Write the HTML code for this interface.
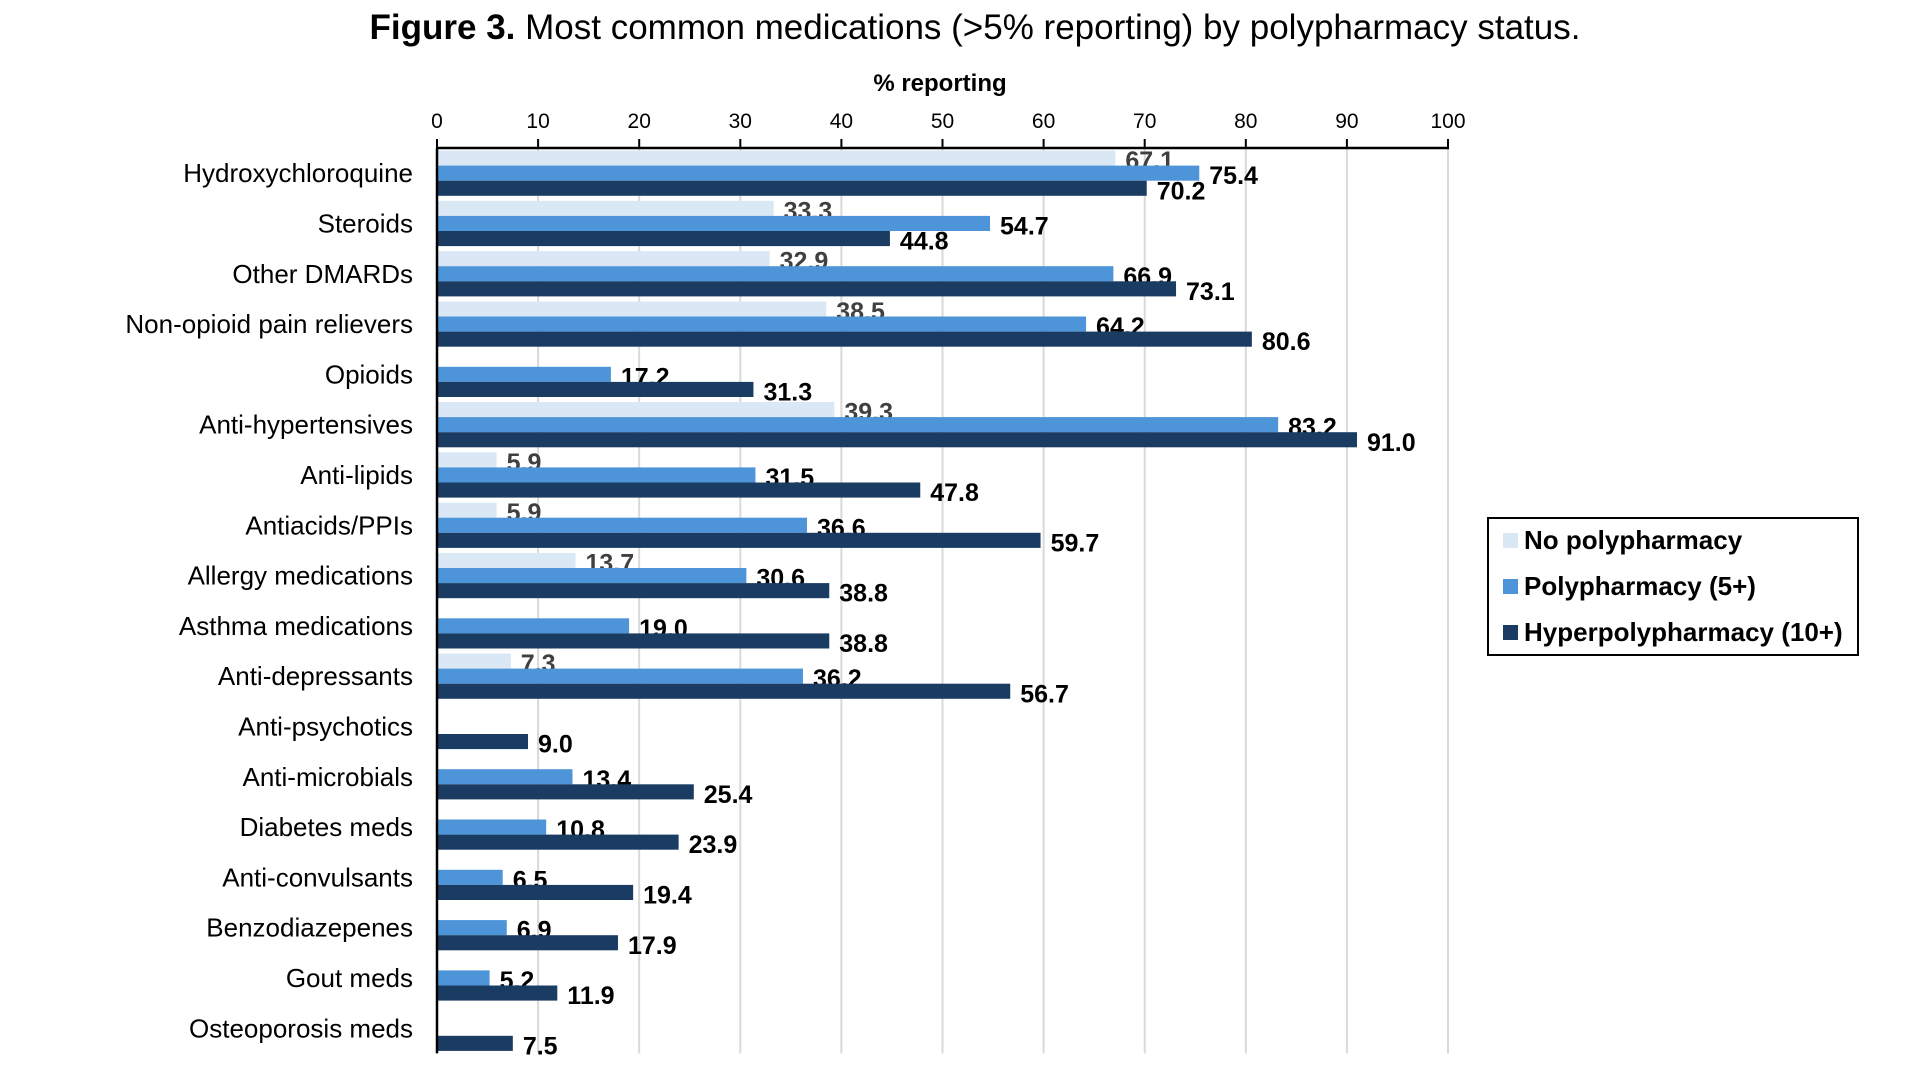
<!DOCTYPE html>
<html><head><meta charset="utf-8"><style>
html,body{margin:0;padding:0;background:#fff;}
svg{display:block;font-family:"Liberation Sans",sans-serif;}
</style></head><body>
<svg id="chart" width="1920" height="1080" viewBox="0 0 1920 1080">
<text x="975" y="39" text-anchor="middle" font-size="35"><tspan font-weight="bold">Figure 3.</tspan> Most common medications (&gt;5% reporting)  by polypharmacy status.</text>
<text x="940" y="91" text-anchor="middle" font-size="24" font-weight="bold">% reporting</text>
<g id="grid"></g><g id="bars"></g><g id="axes"></g>
<g>
<rect x="1488" y="518" width="370" height="137" fill="#fff" stroke="#000" stroke-width="2"/>
<rect x="1503" y="533" width="15" height="15" fill="#dae8f6"/>
<text x="1524" y="549" font-size="26" font-weight="bold">No polypharmacy</text>
<rect x="1503" y="579" width="15" height="15" fill="#4d94d8"/>
<text x="1524" y="595" font-size="26" font-weight="bold">Polypharmacy (5+)</text>
<rect x="1503" y="625" width="15" height="15" fill="#1a3c63"/>
<text x="1524" y="641" font-size="26" font-weight="bold">Hyperpolypharmacy (10+)</text>
</g>
</svg>
<script>
const categories = ["Hydroxychloroquine","Steroids","Other DMARDs","Non-opioid pain relievers","Opioids","Anti-hypertensives","Anti-lipids","Antiacids/PPIs","Allergy medications","Asthma medications","Anti-depressants","Anti-psychotics","Anti-microbials","Diabetes meds","Anti-convulsants","Benzodiazepenes","Gout meds","Osteoporosis meds"];
const noPoly = [67.1,33.3,32.9,38.5,null,39.3,5.9,5.9,13.7,null,7.3,null,null,null,null,null,null,null];
const poly5 = [75.4,54.7,66.9,64.2,17.2,83.2,31.5,36.6,30.6,19.0,36.2,null,13.4,10.8,6.5,6.9,5.2,null];
const hyper10 = [70.2,44.8,73.1,80.6,31.3,91.0,47.8,59.7,38.8,38.8,56.7,9.0,25.4,23.9,19.4,17.9,11.9,7.5];
const xTicks = [0,10,20,30,40,50,60,70,80,90,100];

const NS="http://www.w3.org/2000/svg";
const X0=437, X1=1448, Y0=148, BAND=50.3, BAR=15.1, PAD=2.5;
const xs=v=>X0+(v/100)*(X1-X0);
const ys=i=>Y0+i*BAND;
const YB=Y0+categories.length*BAND;
function mk(tag,attrs,parent){const e=document.createElementNS(NS,tag);for(const k in attrs)e.setAttribute(k,attrs[k]);parent.appendChild(e);return e;}
const grid=document.getElementById('grid'),bars=document.getElementById('bars'),axes=document.getElementById('axes');
xTicks.forEach(t=>{
  if(t>0){const g=mk('line',{x1:xs(t),x2:xs(t),y1:Y0,y2:YB,stroke:'#d9d9d9','stroke-width':2},grid);
  
  }
  const tk=mk('line',{x1:xs(t),x2:xs(t),y1:Y0-9,y2:Y0,stroke:'#000','stroke-width':2},axes);
  
  
  const tl=mk('text',{x:xs(t),y:Y0-20,'text-anchor':'middle','font-size':21},axes);
  tl.textContent=t;
  
  
});
const ax=mk('line',{x1:X0-1,x2:X1+1,y1:Y0,y2:Y0,stroke:'#000','stroke-width':2.5},axes);


const ay=mk('line',{x1:X0,x2:X0,y1:Y0,y2:YB,stroke:'#000','stroke-width':2.5},axes);


const series=[[noPoly,'#dae8f6','#404040','no-polypharmacy'],[poly5,'#4d94d8','#000','polypharmacy'],[hyper10,'#1a3c63','#000','hyperpolypharmacy']];
categories.forEach((c,i)=>{
  const lab=mk('text',{x:413,y:ys(i)+BAND/2+9,'text-anchor':'end','font-size':26},axes);
  lab.textContent=c;
  
  
  series.forEach((s,j)=>{
    const v=s[0][i]; if(v==null) return;
    const y=ys(i)+PAD+j*BAR;
    const r=mk('rect',{x:X0,y:y,width:xs(v)-X0,height:BAR,fill:s[1]},bars);
    
    
    const t=mk('text',{x:xs(v)+10,y:y+BAR/2+11,'font-size':25,'font-weight':'bold',fill:s[2]},bars);
    t.textContent=v.toFixed(1);
    
    
  });
});
</script>
</body></html>
